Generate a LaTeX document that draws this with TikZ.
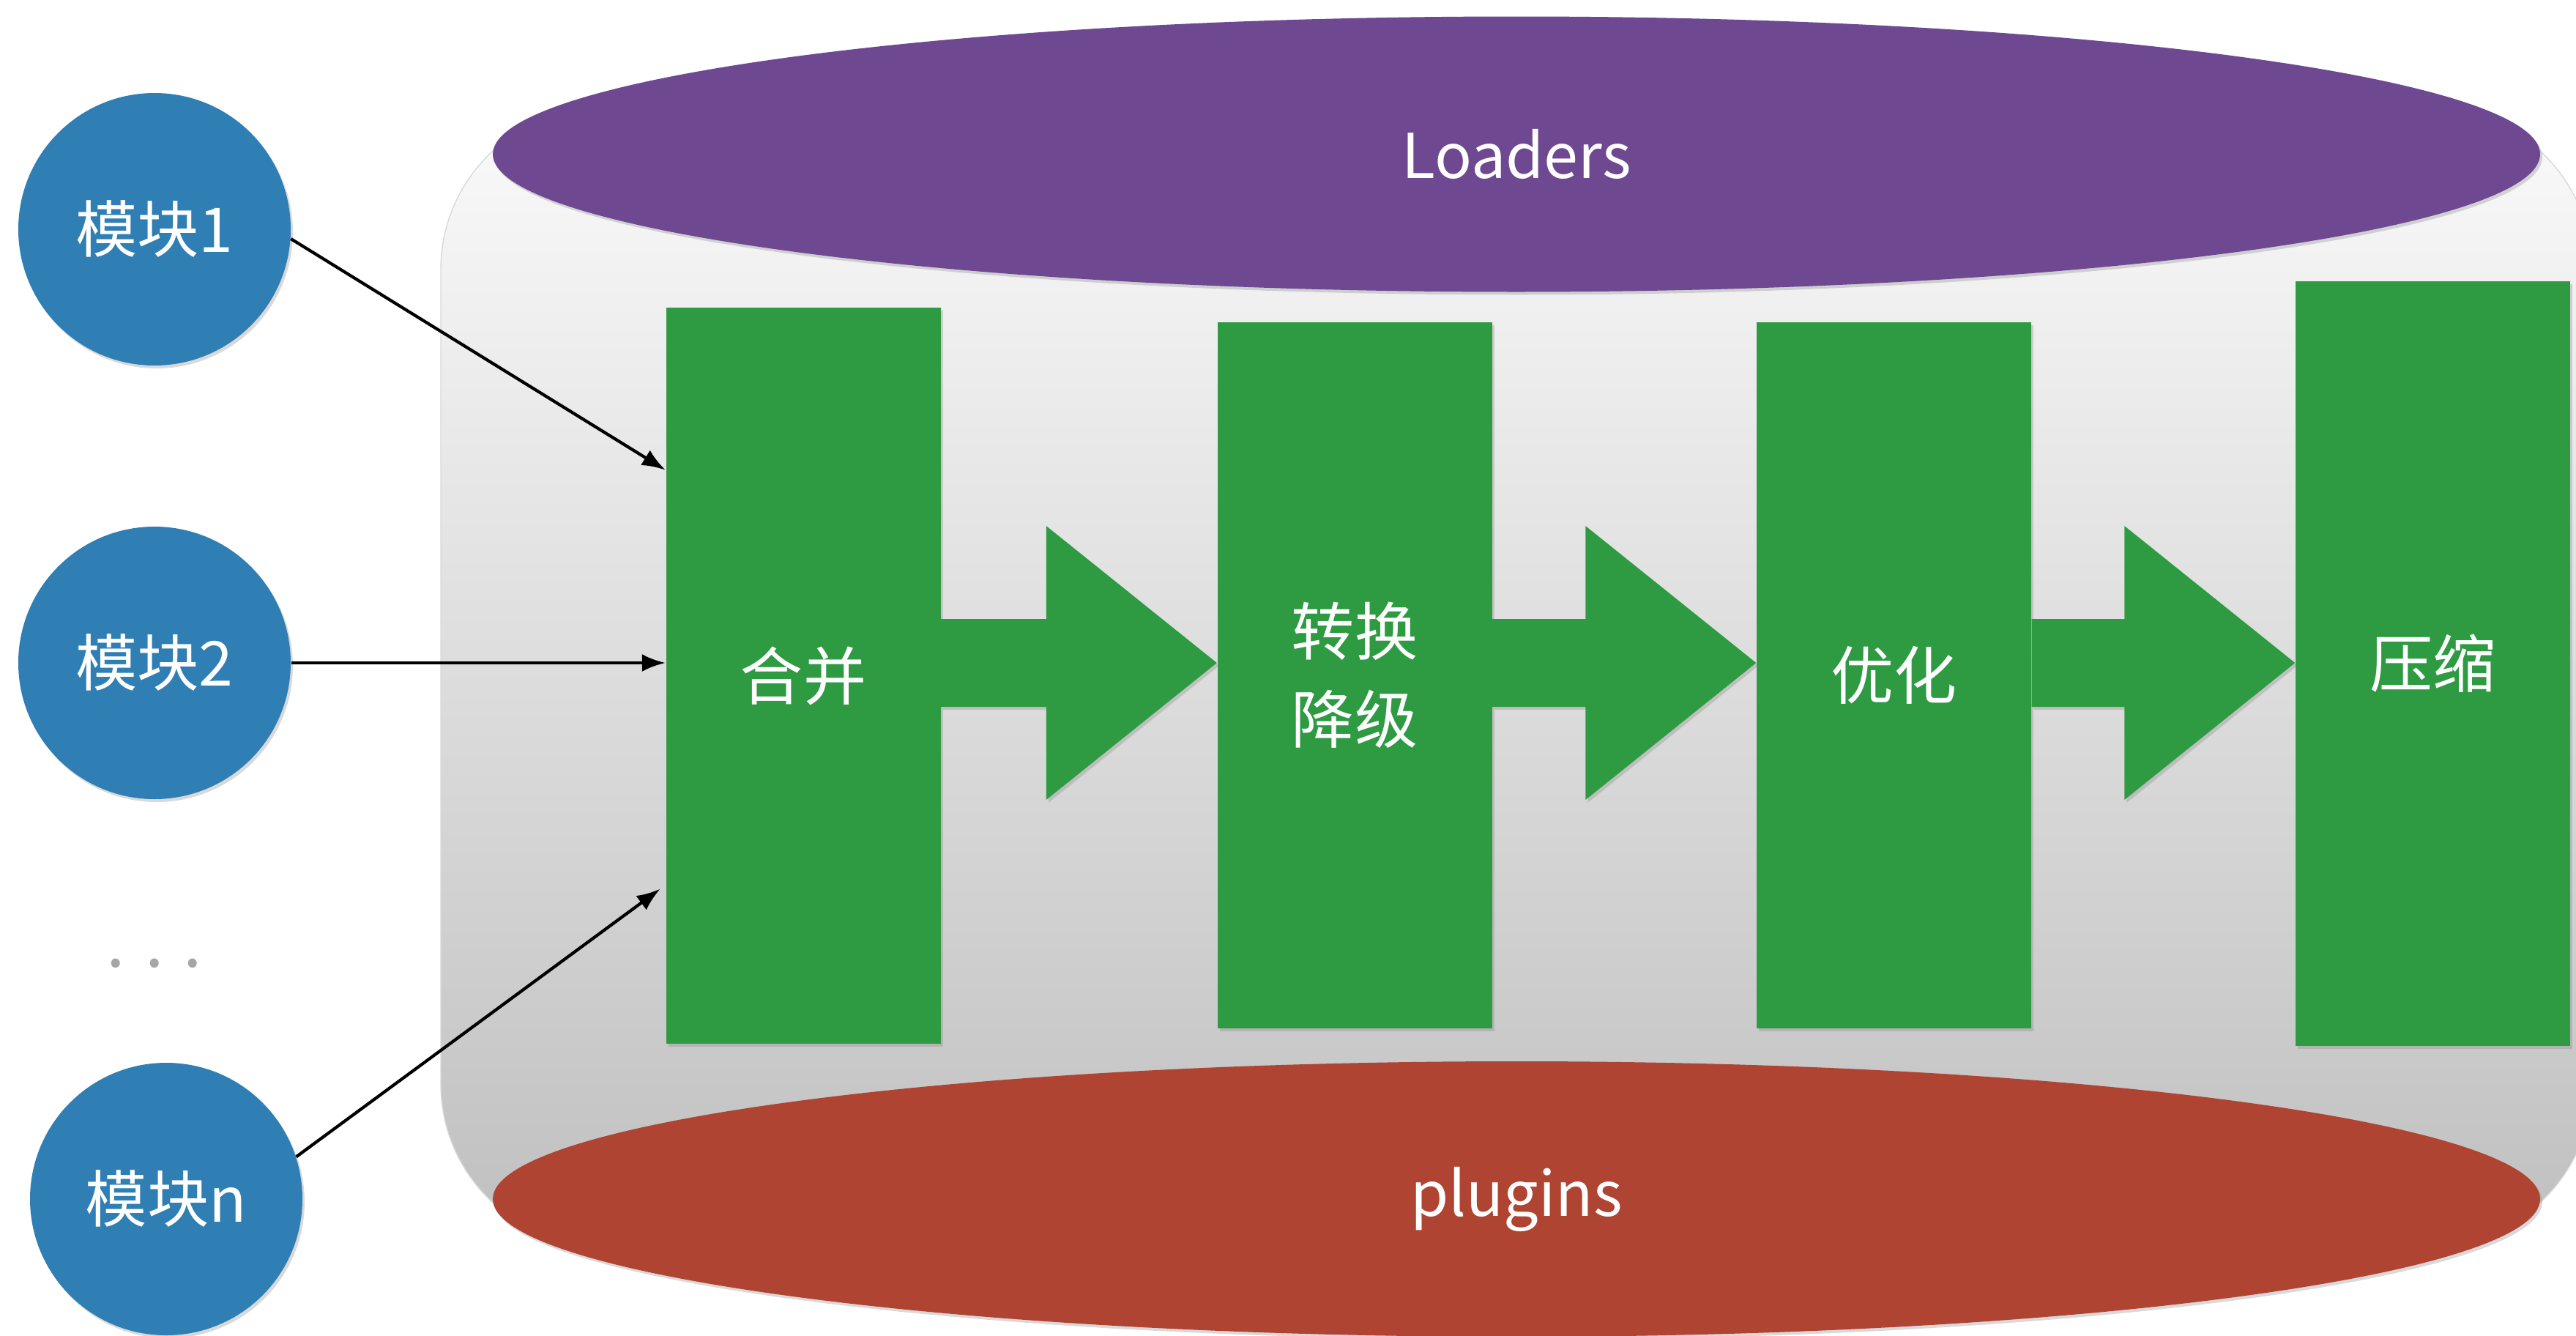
\documentclass[tikz,border=0pt]{standalone}
\usepackage{fontspec}
\setmainfont{Noto Sans CJK SC}
\usetikzlibrary{positioning,arrows.meta,shapes.geometric,shadows,calc}

\definecolor{modblue}{HTML}{2F7EB4}
\definecolor{loaderpurple}{HTML}{6E4991}
\definecolor{pluginred}{HTML}{B04432}
\definecolor{stagegreen}{HTML}{2E9B43}

\begin{document}
\begin{tikzpicture}[
    softshadow/.style={drop shadow={shadow xshift=0.03cm, shadow yshift=-0.04cm, opacity=0.3}},
    stage/.style={rectangle, fill=stagegreen, minimum width=3.75cm, inner sep=0pt,
      text=white, align=center, font=\fontsize{24.5}{34}\selectfont, softshadow},
    module/.style={circle, fill=modblue, minimum size=3.72cm, inner sep=0pt,
      text=white, font=\fontsize{24}{30}\selectfont, softshadow},
    layer/.style={ellipse, minimum width=27.96cm, minimum height=3.76cm, inner sep=0pt,
      text=white, font=\fontsize{24}{30}\selectfont, softshadow},
    feed/.style={-{Latex[length=0.32cm,width=0.24cm]}, line width=1.2pt}
  ]
  \useasboundingbox (0,0) rectangle (35.18,-18.24);

  % frame of the bundler
  \draw[black!15, top color=black!2, bottom color=black!25, rounded corners=2.2cm]
    (6.02,-1.48) rectangle (35.40,-17.00);

  \node[layer, fill=loaderpurple] (loaders) at (20.71,-2.105) {Loaders};
  \node[layer, fill=pluginred] (plugins) at (20.71,-16.37) {plugins};

  % stages
  \node[stage, minimum height=10.05cm] (merge) at (10.97,-9.225) {合并};
  \node[stage, minimum height=9.64cm] (lower) at (18.50,-9.22) {转换\\降级};
  \node[stage, minimum height=9.64cm] (optim) at (25.865,-9.22) {优化};
  \node[stage, minimum height=10.44cm] (compress) at (33.225,-9.06) {压缩};

  \coordinate (axis) at (0,-9.05);
  \foreach \a/\b in {merge/lower, lower/optim, optim/compress}
    \fill[stagegreen, softshadow]
      ($(\a.east |- axis)+(0,0.6)$) -- ($(\b.west |- axis)+(-2.33,0.6)$)
      -- ($(\b.west |- axis)+(-2.33,1.87)$) -- (\b.west |- axis)
      -- ($(\b.west |- axis)+(-2.33,-1.87)$) -- ($(\b.west |- axis)+(-2.33,-0.6)$)
      -- ($(\a.east |- axis)+(0,-0.6)$) -- cycle;

  % modules
  \node[module] (mod1) at (2.11,-3.13) {模块1};
  \node[module] (mod2) at (2.11,-9.05) {模块2};
  \node[text=black!35, inner sep=0pt, font=\fontsize{26}{30}\selectfont] (dots) at (2.11,-13.15) {. . .};
  \node[module] (modn) at (2.27,-16.37) {模块n};

  \coordinate (in1) at ($(merge.north west)!0.221!(merge.south west)$);
  \coordinate (inn) at ($(merge.north west)!0.784!(merge.south west)$);
  \draw[feed] (mod1.-4) -- (in1);
  \draw[feed] (mod2.east) -- (mod2.east -| merge.west);
  \draw[feed, shorten >=0.09cm] (modn.18) -- (inn);
\end{tikzpicture}
\end{document}
